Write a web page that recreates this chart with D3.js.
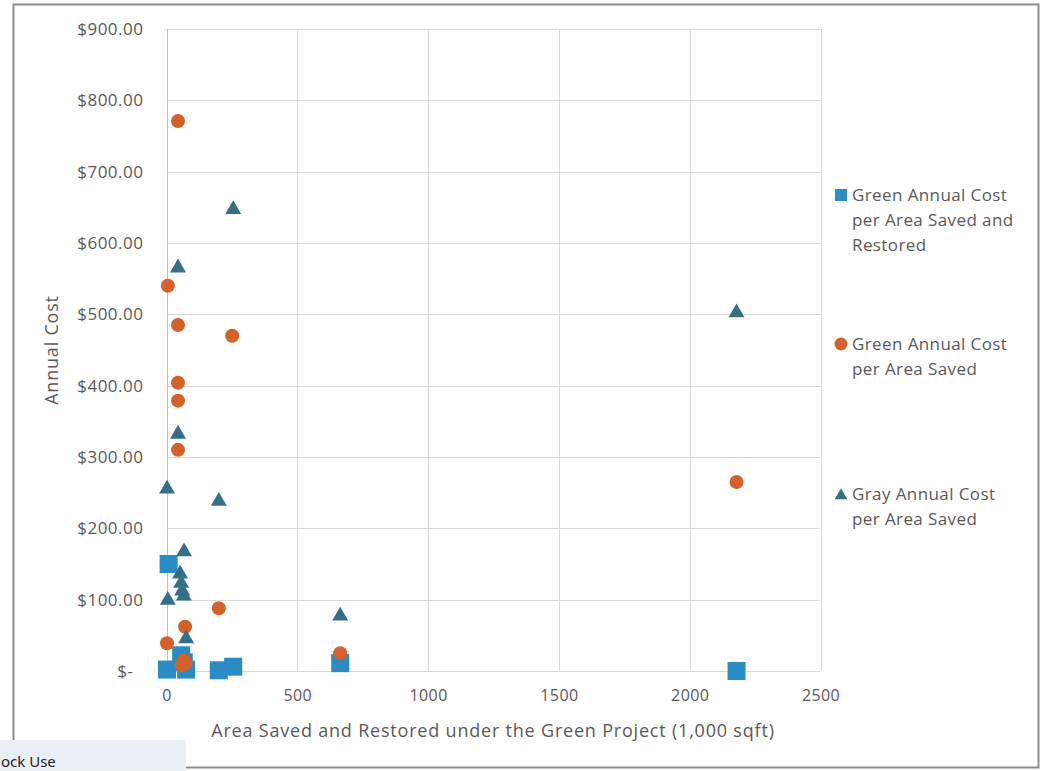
<!DOCTYPE html>
<html>
<head>
<meta charset="utf-8">
<script src="https://cdn.jsdelivr.net/npm/d3@7"></script>
<style>
  body { margin: 0; background: #fff; }
  svg { display: block; font-family: "Open Sans", "Noto Sans", sans-serif; }
</style>
</head>
<body>
<div id="chart"></div>
<script>
// series values: [area (1,000 sqft), annual cost $]
const greenRestored = [[8, 150], [2, 2], [56, 22], [66, 12], [75, 2], [200, 1], [255, 6], [664, 11], [2179, 0]]
const greenSaved = [[44, 771], [5, 540], [44, 485], [251, 470], [44, 404], [44, 379], [44, 310], [2179, 265],
  [200, 88], [2, 39], [71, 62], [664, 25], [66, 15], [58, 8], [72, 11]]
const graySaved = [[255, 650], [44, 568], [2179, 505], [44, 335], [2, 258], [200, 241], [67, 170], [52, 139],
  [56, 126], [60, 115], [66, 108], [5, 102], [664, 80], [75, 48]]

const xTicks = [0, 500, 1000, 1500, 2000, 2500]
const yTicks = [0, 100, 200, 300, 400, 500, 600, 700, 800, 900]
const seriesNames = [
  ["Green Annual Cost", "per Area Saved and", "Restored"],
  ["Green Annual Cost", "per Area Saved"],
  ["Gray Annual Cost", "per Area Saved"]
]

const W = 1041, H = 771
const margin = {top: 29, right: 221, bottom: 100, left: 166.5}
const colors = ["#2A8CC4", "#D5602A", "#336F87"]
const textColor = "#595959"

const svg = d3.select("#chart").append("svg")
  .attr("width", W).attr("height", H)

// outer frame
svg.append("rect")
  .attr("x", 13.5).attr("y", 4.5).attr("width", 1025).attr("height", 763)
  .attr("fill", "none").attr("stroke", "#8c8c8c").attr("stroke-width", 2)

const x = d3.scaleLinear().domain([0, 2500]).range([margin.left, W - margin.right + 0.5])
const y = d3.scaleLinear().domain([0, 900]).range([H - margin.bottom, margin.top])

// gridlines
svg.append("g").selectAll("line").data(yTicks).join("line")
  .attr("x1", x(0)).attr("x2", x(2500))
  .attr("y1", d => Math.round(y(d)) + 0.5).attr("y2", d => Math.round(y(d)) + 0.5)
  .attr("stroke", "#d9d9d9")
svg.append("g").selectAll("line").data(xTicks).join("line")
  .attr("y1", y(0)).attr("y2", y(900))
  .attr("x1", d => Math.round(x(d)) + 0.5).attr("x2", d => Math.round(x(d)) + 0.5)
  .attr("stroke", d => d === 0 ? "#bfbfbf" : "#d9d9d9")

// axes (labels only, Excel style)
const xAxis = svg.append("g")
  .attr("transform", `translate(0,${y(0) + 16})`)
  .call(d3.axisBottom(x).tickValues(xTicks).tickSize(0).tickFormat(d3.format("d")))
  .attr("font-family", null).attr("font-size", 16)
xAxis.select(".domain").remove()
xAxis.selectAll("text").attr("fill", textColor).attr("letter-spacing", 0.4)

const yAxis = svg.append("g")
  .attr("transform", `translate(${x(0) - 20},0)`)
  .call(d3.axisLeft(y).tickValues(yTicks).tickSize(0)
    .tickFormat(d => d === 0 ? "$-" : "$" + d3.format(".2f")(d)))
  .attr("font-family", null).attr("font-size", 17)
yAxis.select(".domain").remove()
yAxis.selectAll("text").attr("fill", textColor).attr("letter-spacing", 0.5)
  .attr("dx", d => d === 0 ? -10 : 0)

// axis titles
svg.append("text")
  .attr("x", 493).attr("y", 737)
  .attr("text-anchor", "middle").attr("font-size", 18).attr("letter-spacing", 0.8)
  .attr("fill", textColor)
  .text("Area Saved and Restored under the Green Project (1,000 sqft)")
svg.append("text")
  .attr("transform", "translate(58,350) rotate(-90)")
  .attr("text-anchor", "middle").attr("font-size", 18).attr("letter-spacing", 0.8)
  .attr("fill", textColor)
  .text("Annual Cost")

// markers
const plot = svg.append("g")
plot.selectAll(".sq").data(greenRestored).join("rect")
  .attr("class", "sq")
  .attr("x", d => x(d[0]) - 9).attr("y", d => y(d[1]) - 9)
  .attr("width", 18).attr("height", 18)
  .attr("fill", colors[0])
plot.selectAll(".dot").data(greenSaved).join("circle")
  .attr("class", "dot")
  .attr("cx", d => x(d[0])).attr("cy", d => y(d[1])).attr("r", 7)
  .attr("fill", colors[1])
// d3 triangles are centred on their centroid; nudge to centre the box like Excel
const tri = d3.symbol().type(d3.symbolTriangle).size(110)
plot.selectAll(".tri").data(graySaved).join("path")
  .attr("class", "tri")
  .attr("transform", d => `translate(${x(d[0])},${y(d[1]) + 2})`)
  .attr("d", tri)
  .attr("fill", colors[2])

// legend
const legendY = [195, 344, 494]
const legend = svg.append("g").selectAll("g").data(seriesNames).join("g")
  .attr("transform", (d, i) => `translate(841,${legendY[i]})`)
legend.each(function(d, i) {
  const g = d3.select(this)
  if (i === 0) g.append("rect").attr("x", -6).attr("y", -6).attr("width", 12).attr("height", 12).attr("fill", colors[0])
  if (i === 1) g.append("circle").attr("r", 6.5).attr("fill", colors[1])
  if (i === 2) g.append("path").attr("d", d3.symbol().type(d3.symbolTriangle).size(70))
    .attr("transform", "translate(0,1.5)").attr("fill", colors[2])
  g.selectAll("text").data(d).join("text")
    .attr("x", 11).attr("y", (t, j) => j * 25 + 6)
    .attr("font-size", 17).attr("letter-spacing", 0.4).attr("fill", textColor)
    .text(t => t)
})

// bottom-left tab that overlaps the frame
svg.append("rect").attr("x", 0).attr("y", 740).attr("width", 186).attr("height", 31).attr("fill", "#e9eff2")
svg.append("text").attr("x", 1).attr("y", 767).attr("font-size", 15).attr("fill", "#222")
  .attr("font-family", "'Noto Sans', sans-serif")
  .text("ock Use")
</script>
</body>
</html>
